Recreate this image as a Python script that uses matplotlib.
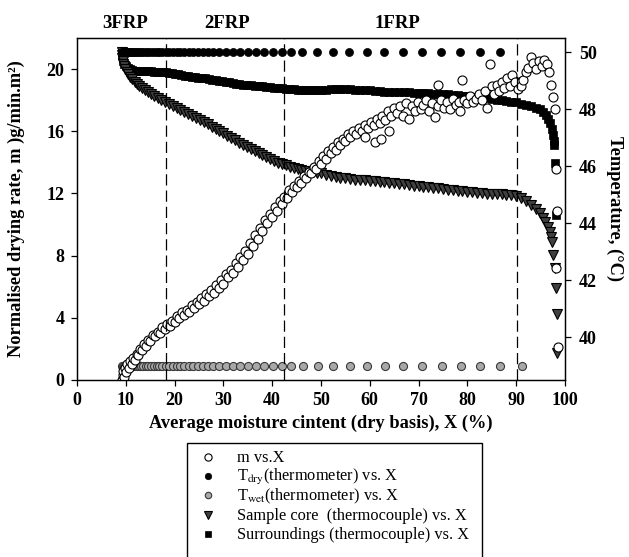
#!/usr/bin/env python3
import matplotlib

matplotlib.use("Agg")
import matplotlib.pyplot as plt
from matplotlib.lines import Line2D
from matplotlib.patches import Rectangle
from matplotlib.transforms import blended_transform_factory

plt.rcParams["font.family"] = "serif"
plt.rcParams["font.serif"] = ["Liberation Serif", "DejaVu Serif"]
plt.rcParams["mathtext.fontset"] = "stix"

# drying rate m (left axis) vs average moisture content X
M_X = [
    9.3, 9.4, 9.5, 9.7, 9.9, 10.1, 10.3, 10.6, 10.9, 11.2, 11.5, 11.8, 12.2, 12.6,
    13.0, 13.4, 13.8, 14.2, 14.6, 15.0, 15.5, 16.0, 16.5, 17.0, 17.5, 18.0, 18.5,
    19.0, 19.5, 20.0, 20.5, 21.0, 21.5, 22.0, 22.5, 23.0, 23.5, 24.0, 24.5, 25.0,
    25.5, 26.0, 26.5, 27.0, 27.5, 28.0, 28.5, 29.0, 29.5, 30.0, 30.5, 31.0, 31.5,
    32.0, 32.5, 33.0, 33.5, 34.0, 34.5, 35.0, 35.5, 36.0, 36.5, 37.0, 37.5, 38.0,
    38.5, 39.0, 39.5, 40.0, 40.5, 41.0, 41.5, 42.0, 42.5, 43.0, 43.5, 44.0, 44.5,
    45.0, 45.5, 46.0, 46.5, 47.0, 47.5, 48.0, 48.5, 49.0, 49.5, 50.0, 50.5, 51.0,
    51.5, 52.0, 52.5, 53.0, 53.5, 54.0, 54.5, 55.0, 55.5, 56.0, 56.6, 57.2, 57.8,
    58.4, 59.0, 59.0, 59.6, 60.2, 60.8, 61.4, 62.0, 62.6, 63.2, 63.8, 64.4, 65.0,
    65.6, 66.2, 61.0, 62.2, 64.0, 66.8, 67.4, 68.0, 68.6, 69.2, 69.8, 70.4, 71.0,
    71.6, 72.2, 72.8, 73.4, 74.0, 74.0, 74.6, 75.2, 75.8, 76.4, 77.0, 77.6, 78.2,
    78.5, 79.0, 79.4, 80.0, 80.6, 81.2, 81.8, 82.4, 83.0, 83.6, 84.0, 84.6, 85.0,
    85.4, 86.0, 86.5, 87.0, 87.6, 88.2, 88.7, 89.2, 89.8, 90.4, 91.0, 91.5, 92.0,
    92.5, 93.0, 93.4, 94.0, 94.6, 95.2, 95.8, 96.3, 96.8, 97.2, 97.5, 98.0, 98.1,
    98.3, 98.2, 98.6,
]
M_RATE = [
    0.0, 0.3, 0.6, 0.2, 0.8, 0.5, 1.0, 0.8, 1.2, 1.0, 1.4, 1.3, 1.7, 1.6,
    2.0, 1.9, 2.3, 2.2, 2.6, 2.5, 2.9, 2.8, 3.1, 3.0, 3.4, 3.3, 3.6,
    3.5, 3.8, 3.7, 4.1, 4.0, 4.4, 4.2, 4.5, 4.4, 4.8, 4.6, 5.0, 4.9,
    5.3, 5.1, 5.5, 5.4, 5.8, 5.6, 6.1, 5.9, 6.4, 6.2, 6.8, 6.6, 7.1,
    6.9, 7.5, 7.3, 7.9, 7.7, 8.3, 8.1, 8.8, 8.6, 9.3, 9.1, 9.8, 9.6,
    10.3, 10.1, 10.7, 10.5, 11.1, 10.9, 11.5, 11.3, 11.8, 11.7, 12.2, 12.1, 12.5,
    12.4, 12.8, 12.7, 13.1, 13.0, 13.4, 13.3, 13.7, 13.6, 14.1, 13.9, 14.4, 14.2,
    14.7, 14.6, 15.0, 14.8, 15.3, 15.1, 15.5, 15.4, 15.8, 15.6, 16.0, 15.8, 16.2,
    16.0, 16.4, 15.6, 16.2, 16.6, 16.4, 16.8, 16.5, 17.0, 16.7, 17.3, 17.0, 17.5,
    17.2, 17.6, 15.3, 15.5, 16.0, 17.0, 17.8, 16.8, 17.6, 17.3, 17.9, 17.4, 17.7,
    18.0, 17.3, 17.8, 16.9, 17.6, 19.0, 18.0, 17.5, 17.9, 17.4, 18.1, 17.7, 17.9,
    17.3, 19.3, 18.0, 17.8, 18.3, 17.9, 18.1, 18.4, 18.0, 18.6, 17.5, 20.3, 18.9,
    18.4, 19.0, 18.6, 19.2, 18.8, 19.4, 18.9, 19.6, 19.2, 18.7, 18.9, 19.3, 19.8,
    20.1, 20.8, 20.4, 20.0, 20.5, 20.2, 20.6, 20.3, 19.8, 19.0, 18.2, 17.4, 13.6,
    10.9, 7.2, 2.1,
]

# thermometer readings (right axis)
TDRY_X = [
    9.2, 9.4, 9.6, 9.8, 10.0, 10.3, 10.6, 10.9, 11.2, 11.5, 11.9, 12.3, 12.7, 13.1,
    13.6, 14.1, 14.6, 15.1, 15.7, 16.3, 16.9, 17.5, 18.2, 18.9, 19.6, 20.4, 21.2,
    22.0, 22.9, 23.8, 24.8, 25.8, 26.8, 27.9, 29.2, 30.5, 31.9, 33.4, 35.0, 36.6,
    38.4, 40.2, 42.0, 43.9, 46.1, 49.2, 52.4, 55.7, 59.4, 63.0, 66.8, 70.7, 74.5,
    78.5, 82.6, 86.7, 90.8,
]
TDRY = [50.0] * 56 + [49.0]
TWET_X = [
    9.2, 9.4, 9.6, 9.8, 10.0, 10.3, 10.6, 10.9, 11.2, 11.5, 11.9, 12.3, 12.7, 13.1,
    13.6, 14.1, 14.6, 15.1, 15.7, 16.3, 16.9, 17.5, 18.2, 18.9, 19.6, 20.4, 21.2,
    22.0, 22.9, 23.8, 24.8, 25.8, 26.8, 27.9, 29.2, 30.5, 31.9, 33.4, 35.0, 36.6,
    38.4, 40.2, 42.0, 43.9, 46.3, 49.4, 52.5, 55.9, 59.4, 63.1, 66.8, 70.7, 74.8,
    78.7, 82.6, 86.7, 91.2,
]
TWET = [39.0] * 57

# thermocouple readings (right axis)
CORE_X = [
    9.2, 9.25, 9.3, 9.4, 9.5, 9.7, 9.9, 10.2, 10.5, 10.9, 11.3, 11.8, 12.3, 12.8,
    13.4, 14.0, 14.6, 15.2, 15.8, 16.5, 17.2, 18.0, 18.8, 19.6, 20.4, 21.2, 22.0,
    22.8, 23.6, 24.4, 25.2, 26.0, 26.8, 27.6, 28.4, 29.2, 30.0, 30.8, 31.6, 32.4,
    33.2, 34.0, 34.8, 35.6, 36.4, 37.2, 38.0, 38.8, 39.6, 40.4, 41.2, 42.0, 42.8,
    43.6, 44.4, 45.2, 46.0, 46.8, 47.6, 48.4, 49.2, 50.0, 51.0, 52.0, 53.0, 54.0,
    55.0, 56.0, 57.0, 58.0, 59.0, 60.0, 61.0, 62.0, 63.0, 64.0, 65.0, 66.0, 67.0,
    68.0, 69.0, 70.0, 71.0, 72.0, 73.0, 74.0, 75.0, 76.0, 77.0, 78.0, 79.0, 80.0,
    81.0, 82.0, 83.0, 84.0, 85.0, 86.0, 87.0, 88.0, 89.0, 90.0, 91.0, 92.0, 93.0,
    94.0, 94.8, 95.5, 96.0, 96.5, 96.9, 97.2, 97.4, 97.6, 97.9, 98.1, 98.3, 98.4,
]
CORE_T = [
    50.0, 49.9, 49.8, 49.7, 49.6, 49.5, 49.4, 49.3, 49.22, 49.13, 49.05, 48.97, 48.9, 48.82,
    48.75, 48.67, 48.6, 48.53, 48.47, 48.4, 48.34, 48.27, 48.2, 48.12, 48.05, 47.98, 47.9,
    47.82, 47.75, 47.68, 47.62, 47.55, 47.47, 47.39, 47.31, 47.23, 47.15, 47.07, 46.99, 46.91,
    46.83, 46.75, 46.67, 46.6, 46.52, 46.45, 46.38, 46.31, 46.25, 46.19, 46.13, 46.08, 46.03,
    45.99, 45.95, 45.91, 45.88, 45.85, 45.82, 45.79, 45.77, 45.75, 45.71, 45.67, 45.63, 45.6,
    45.58, 45.55, 45.53, 45.52, 45.5, 45.49, 45.47, 45.45, 45.43, 45.41, 45.4, 45.38, 45.36,
    45.34, 45.32, 45.3, 45.28, 45.26, 45.24, 45.22, 45.2, 45.18, 45.16, 45.14, 45.12, 45.1,
    45.08, 45.06, 45.05, 45.04, 45.03, 45.02, 45.01, 45.0, 44.98, 44.95, 44.88, 44.78, 44.65,
    44.5, 44.35, 44.2, 44.05, 43.88, 43.68, 43.5, 43.35, 42.88, 42.42, 41.72, 40.8, 39.44,
]
SURR_X = [
    9.2, 9.3, 9.4, 9.5, 9.7, 10.0, 10.4, 10.8, 11.3, 11.8, 12.3, 12.8, 13.4, 14.0,
    14.6, 15.2, 15.8, 16.4, 17.0, 17.6, 18.2, 18.8, 19.4, 20.0, 20.7, 21.4, 22.1,
    22.8, 23.5, 24.2, 24.9, 25.6, 26.3, 27.0, 27.7, 28.4, 29.1, 29.8, 30.5, 31.2,
    31.9, 32.6, 33.3, 34.0, 34.8, 35.6, 36.4, 37.2, 38.0, 38.8, 39.6, 40.4, 41.2,
    42.0, 42.8, 43.6, 44.4, 45.2, 46.0, 46.8, 47.6, 48.4, 49.2, 50.0, 51.0, 52.0,
    53.0, 54.0, 55.0, 56.0, 57.0, 58.0, 59.0, 60.0, 61.0, 62.0, 63.0, 64.0, 65.0,
    66.0, 67.0, 68.0, 69.0, 70.0, 71.0, 72.0, 73.0, 74.0, 75.0, 76.0, 77.0, 78.0,
    79.0, 80.0, 81.0, 82.0, 83.0, 84.0, 85.0, 86.0, 87.0, 88.0, 89.0, 90.0, 91.0,
    92.0, 93.0, 94.0, 94.8, 95.5, 96.1, 96.6, 97.0, 97.3, 97.5, 97.7, 97.8, 98.0,
    98.2,
]
SURR_T = [
    50.0, 49.9, 49.8, 49.7, 49.6, 49.5, 49.45, 49.4, 49.38, 49.35, 49.35, 49.33, 49.33, 49.33,
    49.33, 49.33, 49.32, 49.32, 49.32, 49.3, 49.3, 49.28, 49.26, 49.25, 49.23, 49.2, 49.18,
    49.16, 49.14, 49.12, 49.1, 49.1, 49.08, 49.06, 49.04, 49.02, 49.0, 48.98, 48.96, 48.94,
    48.92, 48.9, 48.88, 48.86, 48.85, 48.84, 48.82, 48.8, 48.8, 48.78, 48.77, 48.76, 48.75,
    48.74, 48.72, 48.7, 48.7, 48.68, 48.68, 48.67, 48.66, 48.66, 48.66, 48.66, 48.68, 48.7,
    48.7, 48.7, 48.7, 48.7, 48.69, 48.68, 48.67, 48.66, 48.65, 48.63, 48.62, 48.62, 48.61,
    48.6, 48.6, 48.59, 48.58, 48.58, 48.57, 48.56, 48.55, 48.54, 48.53, 48.52, 48.5, 48.5,
    48.48, 48.46, 48.44, 48.42, 48.4, 48.38, 48.36, 48.34, 48.32, 48.3, 48.27, 48.24, 48.2,
    48.15, 48.1, 48.05, 48.0, 47.9, 47.8, 47.65, 47.5, 47.3, 47.1, 46.9, 46.75, 46.1,
    44.3,
]

# drying period boundaries and labels
PERIOD_BOUNDS = [18.2, 42.4, 90.2]
PERIOD_LABELS = ["3FRP", "2FRP", "1FRP"]
PERIOD_LABEL_X = [9.8, 30.7, 65.6]

X_TICKS = [0, 10, 20, 30, 40, 50, 60, 70, 80, 90, 100]
M_TICKS = [0, 4, 8, 12, 16, 20]
T_TICKS = [40, 42, 44, 46, 48, 50]

LEGEND_LABELS = [
    "m vs.X",
    r"T$_{\rm dry}$(thermometer) vs. X",
    r"T$_{\rm wet}$(thermometer) vs. X",
    "Sample core  (thermocouple) vs. X",
    "Surroundings (thermocouple) vs. X",
]


def px(x, y):
    # pixel position in the 629x557 canvas -> figure fraction
    return x / 629, 1 - y / 557


def main():
    fig = plt.figure(figsize=(6.29, 5.57), dpi=100)
    ax = fig.add_axes([0.1224, 0.3178, 0.7758, 0.614])
    ax2 = ax.twinx()
    # keep the open m circles above the temperature markers
    ax.set_zorder(ax2.get_zorder() + 1)
    ax.patch.set_visible(False)

    styles = [
        dict(marker="o", ms=6.5, mfc="white", mec="black", mew=0.8),
        dict(marker="o", ms=5.8, mfc="black", mec="black", mew=0.5),
        dict(marker="o", ms=5.8, mfc="#a8a8a8", mec="#383838", mew=0.8),
        dict(marker="v", ms=6.8, mfc="#404040", mec="black", mew=0.8),
        dict(marker="s", ms=6.0, mfc="black", mec="black", mew=0.5),
    ]

    ax2.plot(SURR_X, SURR_T, ls="none", **styles[4])
    ax2.plot(CORE_X, CORE_T, ls="none", **styles[3])
    ax2.plot(TDRY_X, TDRY, ls="none", **styles[1])
    ax2.plot(TWET_X, TWET, ls="none", **styles[2])
    ax.plot(M_X, M_RATE, ls="none", **styles[0])

    for xb in PERIOD_BOUNDS:
        ax.axvline(xb, color="black", lw=0.9, dashes=(9, 4))

    trans = blended_transform_factory(ax.transData, ax.transAxes)
    for label, xl in zip(PERIOD_LABELS, PERIOD_LABEL_X):
        ax.text(xl, 1.042, label, transform=trans, ha="center", va="center",
                fontsize=13.5, fontweight="bold")

    ax.set_xlim(0, 100)
    ax.set_ylim(0, 22)
    ax2.set_ylim(38.5, 50.5)
    ax.set_xticks(X_TICKS)
    ax.set_yticks(M_TICKS)
    ax2.set_yticks(T_TICKS)

    for a in (ax, ax2):
        a.tick_params(direction="out", length=4, width=0.9, labelsize=13, pad=5)
        for lab in a.get_xticklabels() + a.get_yticklabels():
            lab.set_fontweight("bold")
        for sp in a.spines.values():
            sp.set_linewidth(0.9)
    ax2.tick_params(pad=6)

    ax.set_xlabel("Average moisture cintent (dry basis), X (%)",
                  fontsize=13.2, fontweight="bold", labelpad=4)
    ax.set_ylabel("Normalised drying rate, m )g/min.m²)",
                  fontsize=13.2, fontweight="bold")
    ax.yaxis.set_label_coords(-0.107, 0.5)
    ax2.set_ylabel("Temperature, (°C)", fontsize=13.2, fontweight="bold",
                   rotation=270, va="center")
    ax2.yaxis.set_label_coords(1.102, 0.5)

    # legend box, open at the bottom edge of the canvas
    x0, y0 = px(187, 562)
    x1, y1 = px(482, 443)
    fig.add_artist(Rectangle((x0, y0), x1 - x0, y1 - y0, transform=fig.transFigure,
                             fill=False, edgecolor="black", lw=1.0))
    for i, (label, st) in enumerate(zip(LEGEND_LABELS, styles)):
        yc = 457 + 19.2 * i
        mx, my = px(208, yc)
        sizes = dict(st)
        sizes["ms"] = st["ms"] * 0.8
        fig.add_artist(Line2D([mx], [my], ls="none", transform=fig.transFigure, **sizes))
        tx, ty = px(237, yc + 5)
        fig.text(tx, ty, label, fontsize=11.8, va="baseline", ha="left")

    fig.savefig("out.png", dpi=100)
    plt.close(fig)


if __name__ == "__main__":
    main()
